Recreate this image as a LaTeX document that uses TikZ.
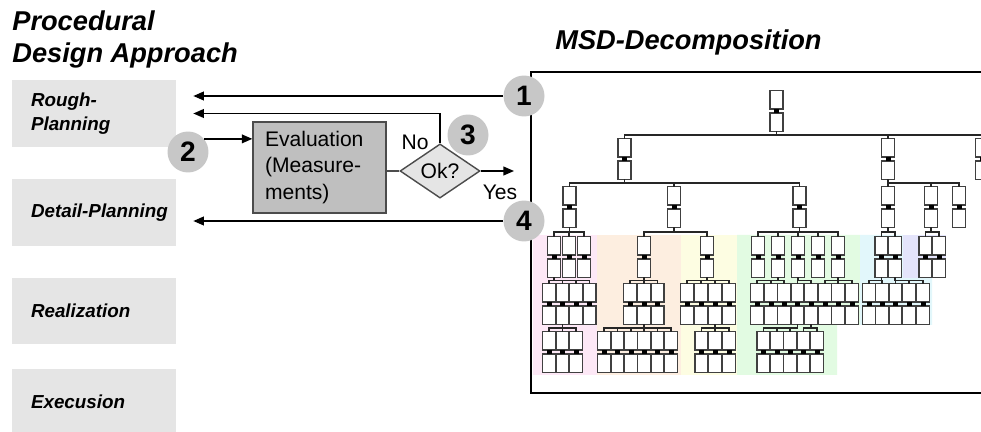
\documentclass[tikz,border=0pt]{standalone}
\usepackage{fontspec}
\setmainfont{Liberation Sans}
\usetikzlibrary{arrows.meta,shapes.geometric,calc}

\definecolor{msdpink}{RGB}{253,232,246}
\definecolor{msdpeach}{RGB}{253,238,224}
\definecolor{msdyellow}{RGB}{253,253,226}
\definecolor{msdgreen}{RGB}{226,251,226}
\definecolor{msdcyan}{RGB}{226,247,251}
\definecolor{msdlav}{RGB}{228,228,251}

\newcommand\titlefont{\fontsize{15.5}{18.7}\selectfont\bfseries\itshape}
\newcommand\phasefont{\fontsize{10.7}{14}\selectfont\bfseries\itshape}
\newcommand\evalfont{\fontsize{12}{15}\selectfont}
\newcommand\numfont{\fontsize{16}{18}\selectfont\bfseries}

% one MSD module: two boxes with a joint
\newcommand\msdmod[3]{%
  \node[module] (#1) at (#2,#3+20) {};
  \draw[modline] (#1.north west) rectangle ([yshift=0.04cm]#1.east);
  \draw[modline] ([yshift=-0.04cm]#1.west) rectangle (#1.south east);
  \fill ([xshift=-0.05cm,yshift=0.04cm]#1.center) rectangle ([xshift=0.05cm,yshift=-0.04cm]#1.center);
}

\begin{document}
\begin{tikzpicture}[x=0.02cm, y=-0.02cm,
phase/.style={rectangle, fill=black!10, minimum width=3.28cm, minimum height=1.34cm, inner xsep=0.38cm, text width=2.52cm, align=left, font=\phasefont},
evalbox/.style={rectangle, draw=black!70, fill=black!25, line width=0.8pt, minimum width=2.66cm, minimum height=1.82cm, inner xsep=0.24cm, text width=2.18cm, align=left, font=\evalfont},
okdia/.style={diamond, draw=black!70, fill=black!10, line width=0.8pt, minimum width=1.6cm, minimum height=0.98cm, inner sep=0pt, font=\evalfont},
num/.style={circle, fill=black!22, minimum size=0.82cm, inner sep=0pt, font=\numfont},
arr/.style={-{Triangle[length=6pt,width=5pt]}, line width=0.8pt},
back/.style={arr, shorten >=0.34cm},
msdframe/.style={line width=1.7pt},
module/.style={rectangle, inner sep=0pt, minimum width=0.25cm, minimum height=0.8cm},
modline/.style={draw=black!75, fill=white, line width=0.75pt},
link/.style={draw=black!85, line width=0.6pt},
elbow/.style={to path={|- ($(\tikztostart)!.5!(\tikztotarget)$) -| (\tikztotarget)}},
]
\useasboundingbox (0,0) rectangle (981,432);

% titles
\node[anchor=north west, align=left, font=\titlefont, inner sep=0pt] (title) at (12,10) {Procedural\\Design Approach};
\node[anchor=base west, font=\titlefont, inner sep=0pt] (msdtitle) at (555,50) {MSD-Decomposition};

% procedural phases
\node[phase] (rough) at (94,113.5) {Rough-\\Planning};
\node[phase] (detail) at (94,212.5) {\mbox{Detail-Planning}};
\node[phase] (real) at (94,311) {Realization};
\node[phase] (exec) at (94,402) {Execusion};

% evaluation loop
\node[evalbox] (eval) at (319.5,167.5) {Evaluation\\(Measure-\\ments)};
\node[okdia] (ok) at (440,171) {Ok?};
\node[font=\evalfont] (no) at (415,142) {No};
\node[font=\evalfont] (yes) at (500,192) {Yes};
\coordinate (yesend) at (514,171);

% coloured module groups
\fill[msdpink] (533,235) rectangle (597,375);
\fill[msdpeach] (597,235) rectangle (681,375);
\fill[msdyellow] (681,235) rectangle (737,375);
\fill[msdgreen] (737,235) -- (860,235) -- (860,325) -- (837,325) -- (837,375) -- (737,375) -- cycle;
\fill[msdcyan] (860,235) -- (903,235) -- (903,278) -- (932,278) -- (932,325) -- (860,325) -- cycle;
\fill[msdlav] (903,235) rectangle (946,278);

\draw[msdframe] (995,72) -| (531,393) -- (995,393);

% MSD tree
\msdmod{root}{776.5}{91}
\foreach \n/\x in {s1/624.5, s2/888, s3/982}
  {\msdmod{\n}{\x}{139} \draw[link] (root.south) to[elbow] (\n.north);}
\foreach \n/\x in {a/569.5, b/674, c/799.5}
  {\msdmod{\n}{\x}{187} \draw[link] (s1.south) to[elbow] (\n.north);}
\foreach \n/\x in {d/888, e/931, f/959}
  {\msdmod{\n}{\x}{187} \draw[link] (s2.south) to[elbow] (\n.north);}

% pink
\foreach \i/\x in {1/554, 2/569, 3/584}
  {\msdmod{a\i}{\x}{237} \draw[link] (a.south) to[elbow] (a\i.north);}
\foreach \i/\x in {1/549, 2/562.5, 3/576, 4/589.5}
  {\msdmod{aa\i}{\x}{284} \draw[link] (a1.south) to[elbow] (aa\i.north);}
\foreach \i/\x in {1/549, 2/562.5, 3/576}
  {\msdmod{aaa\i}{\x}{332} \draw[link] (aa2.south) to[elbow] (aaa\i.north);}
% peach and yellow
\foreach \n/\x in {b1/644, y1/707}
  {\msdmod{\n}{\x}{237} \draw[link] (b.south) to[elbow] (\n.north);}
\foreach \i/\x in {1/630, 2/644, 3/657.5}
  {\msdmod{bb\i}{\x}{284} \draw[link] (b1.south) to[elbow] (bb\i.north);}
\foreach \i/\x in {1/604, 2/617.5, 3/631, 4/644, 5/657.5, 6/671}
  {\msdmod{bbb\i}{\x}{332} \draw[link] (bb2.south) to[elbow] (bbb\i.north);}
\foreach \i/\x in {1/687, 2/701, 3/715, 4/729}
  {\msdmod{yy\i}{\x}{284} \draw[link] (y1.south) to[elbow] (yy\i.north);}
\foreach \i/\x in {1/701.5, 2/715, 3/729}
  {\msdmod{yyy\i}{\x}{332} \draw[link] (yy3.south) to[elbow] (yyy\i.north);}
% green
\foreach \i/\x in {1/758, 2/778, 3/798, 4/818, 5/838}
  {\msdmod{c\i}{\x}{237} \draw[link] (c.south) to[elbow] (c\i.north);}
\foreach \i/\x/\p in {1/757/c2, 2/771/c2, 3/784/c2, 4/797.5/c3, 5/811/c3, 6/825/c5, 7/838/c5, 8/852/c5}
  {\msdmod{cc\i}{\x}{284} \draw[link] (\p.south) to[elbow] (cc\i.north);}
\foreach \i/\x/\p in {1/763.5/cc4, 2/777/cc4, 3/790/cc4, 4/803.5/cc5, 5/817/cc5}
  {\msdmod{ccc\i}{\x}{332} \draw[link] (\p.south) to[elbow] (ccc\i.north);}
% cyan and lavender
\foreach \i/\x in {1/881.5, 2/895}
  {\msdmod{d\i}{\x}{237} \draw[link] (d.south) to[elbow] (d\i.north);}
\foreach \i/\x/\p in {1/869/d1, 2/882/d1, 3/895.5/d2, 4/909/d2, 5/923/d2}
  {\msdmod{dd\i}{\x}{284} \draw[link] (\p.south) to[elbow] (dd\i.north);}
\foreach \i/\x in {1/925.5, 2/939}
  {\msdmod{e\i}{\x}{237} \draw[link] (e.south) to[elbow] (e\i.north);}

% numbered steps
\node[num] (n1) at (524,96) {1};
\node[num] (n2) at (188,152) {2};
\node[num] (n3) at (468,135) {3};
\node[num] (n4) at (524,221) {4};

% arrows
\draw[back] (n1.west) -- (n1.west -| rough.east);
\draw[back] (ok.north) |- (rough.east);
\draw[arr] (n2.39) -- (n2.39 -| eval.west);
\draw[line width=0.8pt, black!70] (eval.east |- ok.west) -- (ok.west);
\draw[arr] (ok.east) -- (yesend);
\draw[back] (n4.west) -- (n4.west -| rough.east);
\end{tikzpicture}
\end{document}
